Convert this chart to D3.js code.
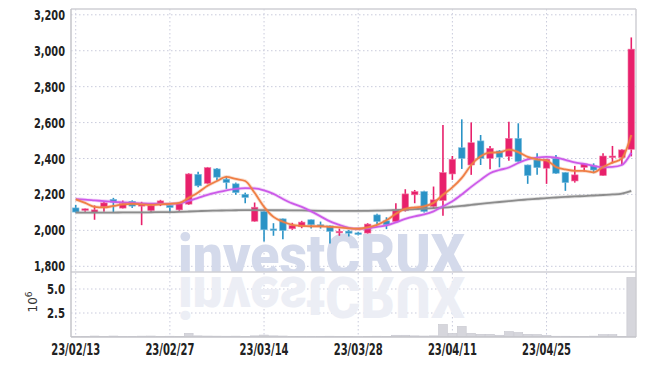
<!DOCTYPE html>
<html><head><meta charset="utf-8">
<script src="https://cdn.jsdelivr.net/npm/d3@7"></script>
<style>body{margin:0;background:#fff;overflow:hidden}</style>
</head><body><svg id="c" width="645" height="366"></svg>
<script>
const dates = ["23/02/13","23/02/14","23/02/15","23/02/16","23/02/17","23/02/20","23/02/21","23/02/22","23/02/23","23/02/24",
"23/02/27","23/02/28","23/03/02","23/03/03","23/03/06","23/03/07","23/03/08","23/03/09","23/03/10","23/03/13",
"23/03/14","23/03/15","23/03/16","23/03/17","23/03/20","23/03/21","23/03/22","23/03/23","23/03/24","23/03/27",
"23/03/28","23/03/29","23/03/30","23/03/31","23/04/03","23/04/04","23/04/05","23/04/06","23/04/07","23/04/10",
"23/04/11","23/04/12","23/04/13","23/04/14","23/04/17","23/04/18","23/04/19","23/04/20","23/04/21","23/04/24",
"23/04/25","23/04/26","23/04/27","23/04/28","23/05/02","23/05/03","23/05/04","23/05/08","23/05/09","23/05/10"];
const open  = [2125,2112,2100,2131,2173,2124,2162,2135,2110,2149,2140,2114,2146,2312,2262,2342,2285,2259,2201,2051,
2105,2008,2064,2009,2021,2059,2031,2025,1990,1996,1986,1985,2086,2053,2049,2110,2198,2216,2133,2166,
2314,2460,2364,2498,2401,2442,2412,2512,2364,2392,2346,2401,2322,2275,2351,2359,2305,2405,2405,2451];
const high  = [2142,2122,2139,2162,2181,2166,2167,2159,2142,2170,2142,2152,2318,2327,2353,2347,2303,2266,2210,2155,
2108,2040,2066,2042,2053,2061,2049,2027,2010,2002,1992,2040,2092,2073,2151,2229,2225,2221,2244,2586,
2414,2618,2601,2531,2470,2447,2605,2596,2366,2429,2398,2420,2324,2359,2373,2373,2429,2470,2452,3074];
const low   = [2098,2103,2059,2103,2098,2122,2125,2029,2098,2135,2098,2109,2142,2240,2257,2277,2231,2198,2151,2048,
1938,1970,1951,2003,2012,2010,2010,1927,1970,1966,1972,1982,2036,2007,2048,2105,2151,2099,2124,2081,
2281,2342,2309,2364,2340,2351,2388,2377,2259,2309,2259,2314,2220,2266,2327,2318,2303,2373,2364,2412];
const close = [2102,2120,2114,2153,2157,2149,2135,2149,2138,2164,2127,2149,2314,2248,2349,2296,2266,2210,2183,2129,
2003,2006,1999,2027,2046,2031,2022,1994,1995,1984,1984,2035,2049,2031,2114,2203,2216,2105,2170,2322,
2396,2401,2488,2401,2457,2407,2512,2383,2305,2349,2396,2318,2266,2309,2370,2336,2414,2414,2448,3009];
const volume = [0.05,0.04,0.10,0.06,0.10,0.05,0.04,0.09,0.10,0.07,0.08,0.06,0.38,0.12,0.10,0.09,0.08,0.09,0.07,0.12,
0.20,0.12,0.10,0.06,0.05,0.05,0.05,0.08,0.04,0.04,0.03,0.06,0.08,0.06,0.18,0.18,0.12,0.10,0.12,1.30,
0.38,1.10,0.38,0.28,0.28,0.18,0.56,0.46,0.28,0.26,0.16,0.08,0.08,0.07,0.07,0.09,0.25,0.25,0.06,6.20];
const ma5  = [2173,2153,2131,2128,2136,2145,2148,2145,2142,2145,2148,2153,2181,2211,2248,2275,2298,2286,2275,2209,
2131,2075,2048,2031,2025,2023,2023,2020,2017,2011,2009,2017,2031,2056,2092,2120,2128,2134,2153,2198,
2239,2292,2364,2412,2433,2434,2450,2436,2409,2395,2389,2353,2339,2331,2331,2323,2353,2377,2401,2531];
const ma20 = [2174,2171,2167,2163,2159,2156,2153,2150,2149,2148,2148,2150,2164,2181,2198,2211,2223,2231,2235,2234,
2223,2203,2175,2150,2131,2106,2078,2050,2031,2014,2009,2011,2020,2028,2045,2064,2078,2089,2106,2134,
2162,2200,2242,2281,2318,2336,2350,2375,2395,2405,2409,2405,2392,2378,2370,2359,2351,2353,2364,2432];
const ma60 = [2099,2099,2099,2099,2099,2100,2100,2100,2101,2102,2102,2103,2105,2107,2109,2110,2111,2112,2113,2113,
2113,2112,2112,2111,2111,2110,2109,2108,2108,2108,2108,2109,2110,2111,2113,2115,2118,2121,2124,2127,
2131,2136,2142,2148,2153,2158,2163,2168,2172,2176,2180,2183,2186,2189,2191,2194,2197,2200,2205,2220];
const priceTicks = [1800,2000,2200,2400,2600,2800,3000,3200];
const volumeTicks = [2.5,5.0];
const dateTicks = ["23/02/13","23/02/27","23/03/14","23/03/28","23/04/11","23/04/25"];

const L = 71, R = 636, T = 9, SEP = 272, B = 337;
const UP = "#e8206b", DOWN = "#2a93c6";
const svg = d3.select("#c");
const x = d3.scaleBand().domain(dates).range([L, R]);
const xc = d => x(d) + x.bandwidth() / 2;
const y = d3.scaleLinear().domain([1800, 3200]).range([266.3, 14.8]);
const yv = d3.scaleLinear().domain([0, 5]).range([B, 289]);
const labelFont = "'Liberation Sans Narrow','DejaVu Sans Condensed','Roboto',sans-serif";

const defs = svg.append("defs");
defs.append("clipPath").attr("id","cp").append("rect").attr("x",L).attr("y",T).attr("width",R-L).attr("height",SEP-T);
defs.append("clipPath").attr("id","cv").append("rect").attr("x",L).attr("y",SEP).attr("width",R-L).attr("height",B-SEP);

// grid
const grid = svg.append("g").attr("stroke","#c9cbdc").attr("stroke-width",1).attr("stroke-dasharray","1.5,2.5");
grid.selectAll(".hp").data(priceTicks).join("line")
  .attr("x1",L).attr("x2",R).attr("y1",d=>y(d)).attr("y2",d=>y(d));
grid.selectAll(".hv").data(volumeTicks).join("line")
  .attr("x1",L).attr("x2",R).attr("y1",d=>yv(d)).attr("y2",d=>yv(d));
grid.selectAll(".vv").data(dateTicks).join("line")
  .attr("x1",d=>xc(d)).attr("x2",d=>xc(d)).attr("y1",T).attr("y2",B);

// watermark + reflection
const wm = svg.append("g").attr("clip-path","url(#cp)");
wm.append("text").attr("x",178).attr("y",275).attr("font-family","Roboto,'Open Sans',sans-serif")
  .attr("font-weight","900").attr("font-size",57).attr("fill","#d4daeb")
  .attr("textLength",287).attr("lengthAdjust","spacingAndGlyphs").text("investCRUX");
const wr = svg.append("g").attr("clip-path","url(#cv)");
wr.append("text").attr("x",178).attr("y",-277).attr("transform","scale(1,-1)")
  .attr("font-family","Roboto,'Open Sans',sans-serif")
  .attr("font-weight","900").attr("font-size",57).attr("fill","#eceef5")
  .attr("textLength",287).attr("lengthAdjust","spacingAndGlyphs").text("investCRUX");

// volume bars
svg.append("g").attr("clip-path","url(#cv)").selectAll("rect").data(dates).join("rect")
  .attr("x",d=>x(d)+0.3).attr("width",x.bandwidth()-0.6)
  .attr("y",(d,i)=>yv(volume[i])).attr("height",(d,i)=>B-yv(volume[i]))
  .attr("fill","#d6d6dc").attr("stroke","#c6c6ce").attr("stroke-width",0.6);

// candles
const cg = svg.append("g").attr("clip-path","url(#cp)");
const cs = cg.selectAll("g").data(dates).join("g");
cs.append("line").attr("x1",d=>xc(d)).attr("x2",d=>xc(d))
  .attr("y1",(d,i)=>y(high[i])).attr("y2",(d,i)=>y(low[i]))
  .attr("stroke",(d,i)=>close[i]>=open[i]?UP:DOWN).attr("stroke-width",1.6);
cs.append("rect").attr("x",d=>xc(d)-3.3).attr("width",6.6)
  .attr("y",(d,i)=>y(Math.max(open[i],close[i])))
  .attr("height",(d,i)=>Math.max(1.6,Math.abs(y(open[i])-y(close[i]))))
  .attr("fill",(d,i)=>close[i]>=open[i]?UP:DOWN)
  .attr("stroke",(d,i)=>close[i]>=open[i]?"#f27aa6":"#7fbfe0").attr("stroke-width",0.6);

// moving averages
const line = arr => d3.line().x((d,i)=>xc(dates[i])).y(d=>y(d)).curve(d3.curveMonotoneX)(arr);
const lg = svg.append("g").attr("clip-path","url(#cp)").attr("fill","none");
[[ma60,"#8c8c8c"],[ma20,"#cc5ae9"],[ma5,"#ef7f45"]].forEach(([a,c])=>{
  lg.append("path").attr("d",line(a)).attr("stroke",c).attr("stroke-opacity",0.25).attr("stroke-width",3.5);
  lg.append("path").attr("d",line(a)).attr("stroke",c).attr("stroke-width",1.8);
});

// frame
const fr = svg.append("g").attr("stroke","#cfcfd4").attr("stroke-width",1.5).attr("fill","none");
fr.append("line").attr("x1",L).attr("x2",R).attr("y1",T).attr("y2",T);
fr.append("line").attr("x1",R).attr("x2",R).attr("y1",T).attr("y2",B);
fr.append("line").attr("x1",L).attr("x2",R).attr("y1",SEP).attr("y2",SEP);
fr.append("line").attr("x1",L).attr("x2",L).attr("y1",T).attr("y2",B).attr("stroke","#c4c4ca");
fr.append("line").attr("x1",L).attr("x2",R).attr("y1",B).attr("y2",B).attr("stroke","#c4c4ca");

// labels
const fmt = d3.format(",");
svg.append("g").selectAll("text").data(priceTicks).join("text")
  .attr("x",65).attr("y",d=>y(d)+5).attr("text-anchor","end")
  .attr("font-family",labelFont).attr("font-weight","bold").attr("font-size",14).attr("fill","#222")
  .attr("textLength",31).attr("lengthAdjust","spacingAndGlyphs")
  .text(d=>fmt(d));
svg.append("g").selectAll("text").data(volumeTicks).join("text")
  .attr("x",65).attr("y",d=>yv(d)+5).attr("text-anchor","end")
  .attr("font-family",labelFont).attr("font-weight","bold").attr("font-size",14).attr("fill","#222")
  .attr("textLength",18).attr("lengthAdjust","spacingAndGlyphs")
  .text(d=>d.toFixed(1));
svg.append("g").selectAll("text").data(dateTicks).join("text")
  .attr("x",d=>xc(d)).attr("y",355).attr("text-anchor","middle")
  .attr("font-family",labelFont).attr("font-weight","bold").attr("font-size",15).attr("fill","#222")
  .attr("textLength",49).attr("lengthAdjust","spacingAndGlyphs")
  .text(d=>d);
const ut = svg.append("text").attr("transform","translate(37,302) rotate(-90)")
  .attr("text-anchor","middle").attr("font-family","'DejaVu Sans',sans-serif").attr("font-size",12).attr("fill","#333");
ut.append("tspan").text("10");
ut.append("tspan").attr("dy",-5).attr("font-size",9).text("6");
</script></body></html>
